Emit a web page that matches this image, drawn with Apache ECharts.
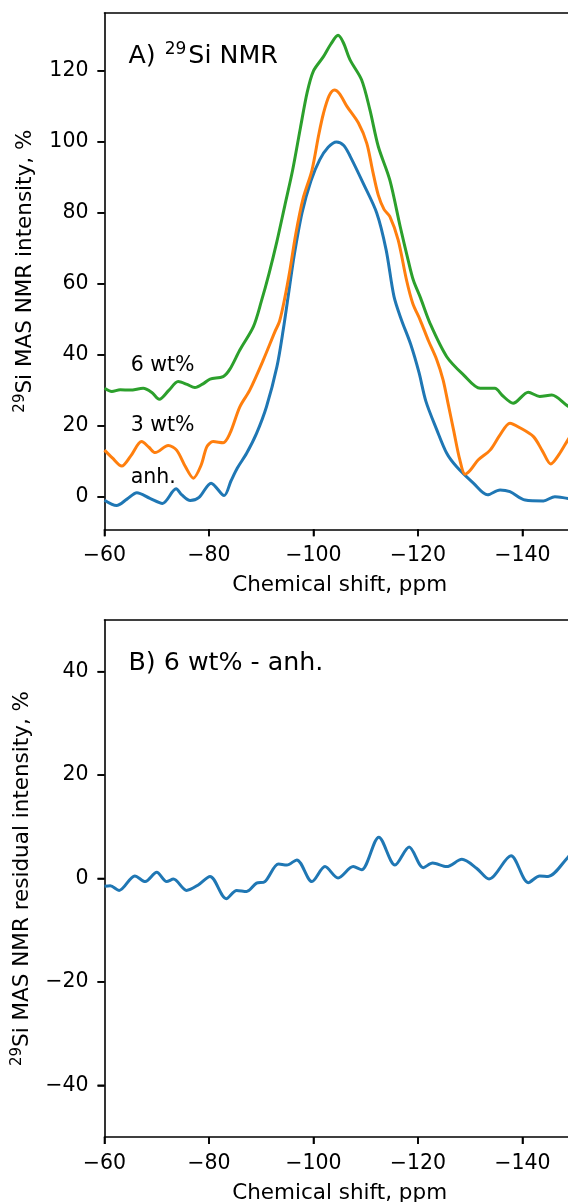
<!DOCTYPE html>
<html>
<head>
<meta charset="utf-8">
<script src="https://cdn.jsdelivr.net/npm/echarts@6/dist/echarts.min.js"></script>
<style>
html,body{margin:0;padding:0;background:#fff;}
#main{width:568px;height:1202px;}
</style>
</head>
<body>
<div id="main"></div>
<script>
// ---- data ----
const xTicks = [-60, -80, -100, -120, -140];
const yTicksA = [0, 20, 40, 60, 80, 100, 120];
const yTicksB = [-40, -20, 0, 20, 40];

const anhPpm = [-60, -62.3, -64.3, -66.2, -68.7, -71.1, -73.7, -74.8, -76.4, -78.1, -80.4, -82.9, -84.2, -85.4, -87.2, -89.1, -91.0, -93.0, -94.2, -95.3, -96.3, -97.8, -99.5, -101.2, -102.8, -104.4, -105.8, -107.0, -109.5, -112.1, -113.9, -115.4, -116.8, -118.6, -120.2, -121.5, -123.6, -125.5, -127.4, -130.6, -133.3, -135.7, -137.6, -140.5, -144.0, -146.2, -148.7, -150];
const anhVal = [-0.9, -2.4, -0.6, 1.2, -0.4, -1.8, 2.3, 0.6, -1.0, -0.1, 3.9, 0.4, 4.5, 8.1, 12.3, 17.9, 25.4, 36.7, 47, 58, 68, 80, 89, 95, 98.5, 100, 99, 96, 88.4, 80, 69.6, 56.5, 50, 43, 35, 27, 18.9, 12.3, 8.5, 3.9, 0.6, 2.0, 1.5, -0.85, -1.1, 0.1, -0.4, -0.5];

const wt3Ppm = [-60, -61.5, -63.3, -65, -67.1, -68.5, -69.7, -72.2, -73.8, -75.5, -77.0, -78.5, -79.6, -80.8, -82.7, -84.0, -85.9, -87.8, -90.4, -92.6, -93.5, -94.5, -95.5, -96.6, -98, -99.7, -101, -101.9, -103, -104.0, -105, -106.4, -108.6, -110.2, -111.3, -112.4, -113.5, -114.6, -116.2, -117.8, -119, -120.4, -122, -123.6, -124.8, -125.8, -126.8, -128, -129.0, -130, -131.5, -133.8, -135.7, -137.6, -139.5, -142.1, -143.8, -145.4, -147, -148.7, -150];
const wt3Val = [13.2, 11, 8.7, 11.5, 15.6, 14, 12.5, 14.5, 13.2, 8.5, 5.3, 9, 14.2, 15.6, 15.3, 17.9, 25.4, 30.1, 38.6, 46.5, 49.5, 56, 64, 74, 84, 92, 102, 108, 113, 114.6, 113.5, 110, 105.3, 99.6, 92, 85, 81, 79, 72.4, 61.1, 54.5, 49.9, 44, 38.6, 33, 26, 18.9, 10.5, 6.4, 7.5, 10.4, 13.2, 17.5, 20.8, 19.5, 17.0, 13, 9.3, 12, 16.1, 19];

const wt6Ppm = [-60, -61.4, -63, -64.9, -67.4, -69, -70.5, -72.3, -74.1, -75.8, -77.3, -79, -80.2, -82.7, -84, -85.9, -88.5, -90, -91.5, -93, -94.5, -96, -97.5, -98.8, -100, -101.9, -103.3, -104.7, -105.7, -107.0, -109.2, -110.8, -112.4, -114.6, -116.6, -118.1, -119.1, -120.5, -122.3, -125.5, -128.7, -131.9, -134.7, -136.2, -138.2, -141.1, -143.3, -145.6, -148.7, -150];
const wt6Val = [30.6, 29.7, 30.2, 30.1, 30.6, 29.5, 27.5, 30, 32.5, 31.7, 30.8, 32, 33.2, 33.9, 36, 41.4, 48, 55, 63, 72, 82, 92, 104, 114, 120, 124, 127.5, 130, 128, 123.1, 117.5, 109, 98.7, 89.3, 76.1, 66.8, 61.1, 56, 48.9, 39.5, 34.4, 30.6, 30.6, 28.5, 26.4, 29.5, 28.3, 28.7, 25.6, 25];

const diffPpm = [-60, -61.1, -62.8, -65.8, -67.8, -70.0, -71.9, -73.2, -75.7, -78.0, -80.2, -83.3, -85.3, -87.2, -89.1, -90.7, -93.3, -94.9, -96.8, -99.7, -102.2, -104.7, -107.6, -109.2, -112.5, -115.6, -118.3, -121.0, -122.8, -125.5, -128.4, -131.2, -133.6, -137.8, -141.1, -143.3, -144.9, -148.7, -150];
const diffVal = [-1.5, -1.4, -2.3, 0.5, -0.6, 1.2, -0.6, -0.1, -2.3, -1.2, 0.4, -3.9, -2.3, -2.5, -0.9, -0.6, 2.8, 2.6, 3.6, -0.6, 2.3, 0.1, 2.3, 1.7, 8.0, 2.6, 6.1, 2.1, 3.0, 2.3, 3.7, 2.0, -0.1, 4.4, -0.8, 0.5, 0.4, 4.1, 5.5];

const annoText = ['6 wt%', '3 wt%', 'anh.'];
const annoPpm = [-65, -65, -65];
const annoVal = [35, 18, 3.4];

// ---- chart ----
const zip = (a, b) => a.map((v, i) => [v, b[i]]);
const FONT = 'DejaVu Sans';
const fmt = v => (v < 0 ? '\u2212' : '') + Math.abs(v);
const X_MIN = -150, X_MAX = -60;
const Y_RANGE = [[-9.1, 136.3], [-50, 50]];
const Y_TICKS = [yTicksA, yTicksB];
const TICK_LEN = 7;

const chart = echarts.init(document.getElementById('main'), null, {renderer: 'canvas'});

function tickStyle() { return {color: '#000', width: 1.6}; }

function xAxisCfg(gi) {
  return {
    gridIndex: gi, type: 'value', position: 'bottom', min: X_MIN, max: X_MAX, inverse: true,
    name: 'Chemical shift, ppm', nameLocation: 'middle', nameGap: 45,
    nameTextStyle: {fontFamily: FONT, fontSize: 21.5, color: '#000'},
    axisLine: {show: true, onZero: false, lineStyle: tickStyle()},
    axisTick: {show: true, inside: false, length: TICK_LEN, customValues: xTicks, lineStyle: tickStyle()},
    axisLabel: {show: true, customValues: xTicks, formatter: fmt, margin: 16, fontFamily: FONT, fontSize: 20.5, color: '#000'},
    splitLine: {show: false}
  };
}
function xTopCfg(gi) {
  return {
    gridIndex: gi, type: 'value', position: 'top', min: X_MIN, max: X_MAX, inverse: true,
    axisLine: {show: true, onZero: false, lineStyle: tickStyle()},
    axisTick: {show: false}, axisLabel: {show: false}, splitLine: {show: false}
  };
}
function yAxisCfg(gi, nameMain, gap) {
  return {
    gridIndex: gi, type: 'value', position: 'left', min: Y_RANGE[gi][0], max: Y_RANGE[gi][1],
    name: '{s|29}{n|' + nameMain + '}', nameLocation: 'middle', nameGap: gap,
    nameTextStyle: {fontFamily: FONT, color: '#000', fontSize: 21.5,
      rich: {s: {fontFamily: FONT, fontSize: 15, color: '#000', verticalAlign: 'top', lineHeight: 24},
             n: {fontFamily: FONT, fontSize: 21.5, color: '#000', lineHeight: 26}}},
    axisLine: {show: true, onZero: false, lineStyle: tickStyle()},
    axisTick: {show: true, inside: false, length: TICK_LEN, customValues: Y_TICKS[gi], lineStyle: tickStyle()},
    axisLabel: {show: true, customValues: Y_TICKS[gi], formatter: fmt, margin: 16, fontFamily: FONT, fontSize: 20.5, color: '#000'},
    splitLine: {show: false}
  };
}
function lineSeries(xi, data, color) {
  return {
    type: 'line', xAxisIndex: xi, yAxisIndex: xi, data: data,
    showSymbol: false, symbol: 'none', smooth: 0.3, clip: true,
    lineStyle: {color: color, width: 3}, itemStyle: {color: color},
    animation: false, z: 3
  };
}

const option = {
  animation: false,
  backgroundColor: '#fff',
  grid: [
    {left: 104.5, top: 13, width: 470.25, height: 516.3, show: false, outerBoundsMode: 'none', containLabel: false},
    {left: 104.5, top: 620, width: 470.25, height: 517, show: false, outerBoundsMode: 'none', containLabel: false}
  ],
  xAxis: [xAxisCfg(0), xAxisCfg(1), xTopCfg(0), xTopCfg(1)],
  yAxis: [
    yAxisCfg(0, 'Si MAS NMR intensity, %', 66),
    yAxisCfg(1, 'Si MAS NMR residual intensity, %', 69)
  ],
  series: [
    lineSeries(0, zip(anhPpm, anhVal), '#1f77b4'),
    lineSeries(0, zip(wt3Ppm, wt3Val), '#ff7f0e'),
    lineSeries(0, zip(wt6Ppm, wt6Val), '#2ca02c'),
    lineSeries(1, zip(diffPpm, diffVal), '#1f77b4')
  ]
};
chart.setOption(option);

const graphics = [];
// outward tick marks at the tick values, positioned through the axes' scales
[0, 1].forEach(gi => {
  const finder = {xAxisIndex: gi, yAxisIndex: gi};
  xTicks.forEach(v => {
    const p = chart.convertToPixel(finder, [v, Y_RANGE[gi][0]]);
    graphics.push({type: 'line', z: 5, silent: true,
      shape: {x1: p[0], y1: p[1], x2: p[0], y2: p[1] + TICK_LEN},
      style: {stroke: '#000', lineWidth: 1.6}});
  });
  Y_TICKS[gi].forEach(v => {
    const p = chart.convertToPixel(finder, [X_MAX, v]);
    graphics.push({type: 'line', z: 5, silent: true,
      shape: {x1: p[0] - TICK_LEN, y1: p[1], x2: p[0], y2: p[1]},
      style: {stroke: '#000', lineWidth: 1.6}});
  });
});
// curve labels placed through the axes' scales
annoText.forEach((t, i) => {
  const p = chart.convertToPixel({xAxisIndex: 0, yAxisIndex: 0}, [annoPpm[i], annoVal[i]]);
  graphics.push({type: 'text', x: p[0], y: p[1] - 7.1, z: 10,
    style: {text: t, fontFamily: FONT, fontSize: 20.5, fill: '#000', align: 'left', verticalAlign: 'middle'}});
});
const titleRich = {
  n: {fontFamily: FONT, fontSize: 25.3, fill: '#000', lineHeight: 30},
  s: {fontFamily: FONT, fontSize: 17, fill: '#000', verticalAlign: 'top', lineHeight: 26, padding: [0, 2, 0, 1]}
};
graphics.push({type: 'text', x: 128.5, y: 56.3, z: 10,
  style: {text: '{n|A) }{s|29}{n|Si NMR}', rich: titleRich, align: 'left', verticalAlign: 'middle'}});
graphics.push({type: 'text', x: 128.5, y: 663, z: 10,
  style: {text: 'B) 6 wt% - anh.', fontFamily: FONT, fontSize: 25.3, fill: '#000', align: 'left', verticalAlign: 'middle'}});
chart.setOption({graphic: graphics});
</script>
</body>
</html>
